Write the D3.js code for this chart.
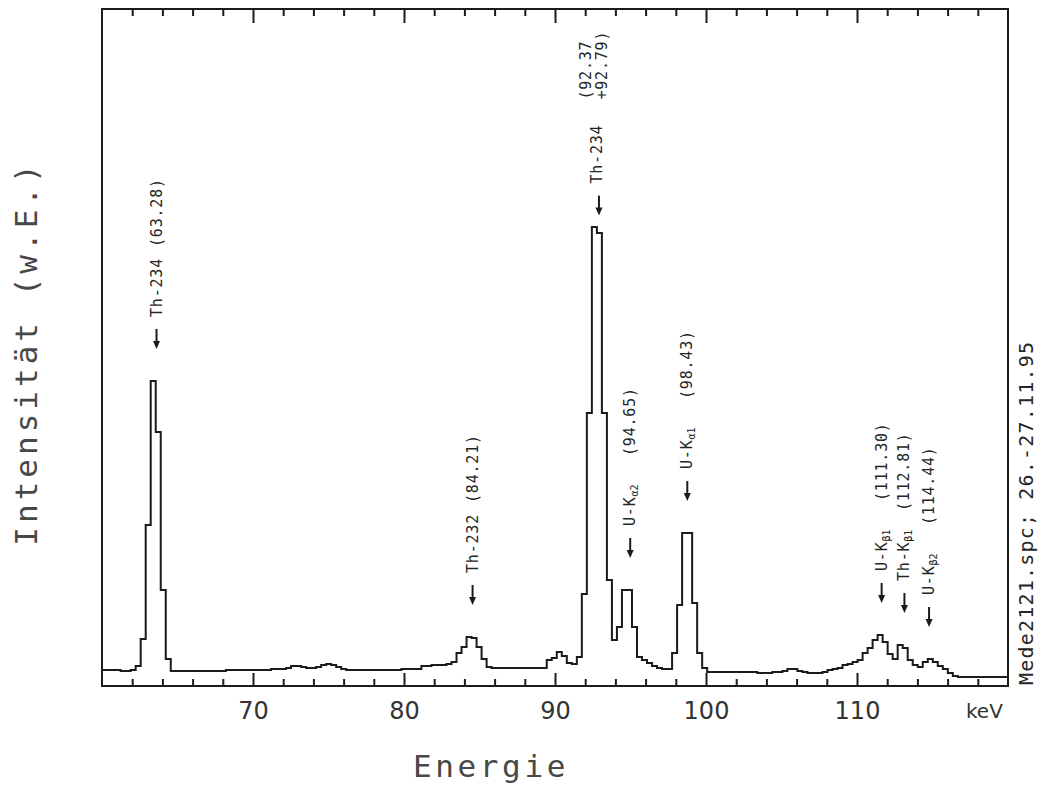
<!DOCTYPE html>
<html>
<head>
<meta charset="utf-8">
<script src="https://cdn.jsdelivr.net/npm/d3@7"></script>
<style>
  html, body { margin: 0; padding: 0; background: #fff; }
  svg { display: block; }
</style>
</head>
<body>
<svg id="chart" width="1045" height="787"></svg>
<script>
// Gamma spectrum, one count value per channel (arbitrary units)
const channelStart = 59.906;   // keV, lower edge of channel 0
const channelWidth = 0.332;    // keV per channel
const counts = [
  16, 16, 16, 16, 15, 15, 16, 20, 47, 161,
  305, 254, 96, 27, 15, 15, 15, 15, 15, 15,
  15, 15, 15, 15, 15, 16, 16, 16, 16, 16,
  16, 16, 16, 16, 17, 17, 17, 18, 20, 20,
  19, 18, 18, 19, 21, 22, 21, 19, 17, 16,
  16, 16, 16, 16, 16, 16, 16, 16, 16, 16,
  17, 17, 17, 17, 20, 20, 21, 21, 21, 22,
  24, 33, 39, 49, 48, 39, 27, 19, 18, 18,
  18, 18, 18, 18, 18, 18, 18, 18, 18, 26,
  28, 34, 30, 23, 22, 29, 92, 273, 459, 453,
  273, 106, 46, 59, 96, 96, 59, 29, 26, 23,
  20, 18, 17, 17, 33, 81, 153, 153, 83, 33,
  18, 14, 14, 14, 14, 14, 14, 14, 14, 14,
  14, 13, 13, 13, 14, 14, 15, 17, 17, 15,
  14, 13, 13, 13, 14, 16, 17, 18, 21, 22,
  24, 26, 33, 38, 46, 51, 44, 32, 27, 41,
  38, 26, 21, 19, 24, 27, 24, 20, 17, 13,
  10, 9, 9, 9, 9, 9, 9, 9, 9, 9,
  9, 9
];

// Energy axis ticks (keV)
const majorTicks = [70, 80, 90, 100, 110];
const minorTicks = [62, 64, 66, 68, 72, 74, 76, 78, 82, 84, 86, 88, 92, 94, 96, 98,
                    102, 104, 106, 108, 112, 114, 116, 118];
const energyUnit = "keV";

// Peak annotations: nuclide / line, subscript, energies in keV
const peakNames    = ["Th-234", "Th-232", "Th-234", "U-K", "U-K", "U-K", "Th-K", "U-K"];
const peakSubs     = ["", "", "", "α2", "α1", "β1", "β1", "β2"];
const peakEnergies = [[63.28], [84.21], [92.37, 92.79], [94.65], [98.43], [111.30], [112.81], [114.44]];

const xTitle = "Energie";
const yTitle = "Intensität (w.E.)";
const runNote = "Mede2121.spc; 26.-27.11.95";

// ---------------------------------------------------------------------------
const plot = { left: 102, right: 1008, top: 9, bottom: 686 };
const ink = "#1b1b1b";
const textInk = "#262626";
const titleInk = "#484848";
const mono = "'DejaVu Sans Mono', 'Liberation Mono', monospace";
const sans = "'DejaVu Sans', 'Liberation Sans', sans-serif";

const x = d3.scaleLinear().domain([60, 120]).range([plot.left, plot.right]);
const y = d3.scaleLinear().domain([0, 677]).range([plot.bottom, plot.top]);

const svg = d3.select("#chart");
svg.append("rect").attr("width", 1045).attr("height", 787).attr("fill", "#fff");

svg.append("defs").append("clipPath").attr("id", "plot-clip")
  .append("rect")
  .attr("x", plot.left).attr("y", plot.top)
  .attr("width", plot.right - plot.left).attr("height", plot.bottom - plot.top);

// Spectrum as a histogram outline
const channelEdge = k => channelStart + k * channelWidth;
const steps = counts.map((c, k) => [channelEdge(k), c]);
steps.push([channelEdge(counts.length), counts[counts.length - 1]]);

const stepLine = d3.line()
  .x(d => x(d[0]))
  .y(d => y(d[1]))
  .curve(d3.curveStepAfter);

svg.append("path")
  .attr("clip-path", "url(#plot-clip)")
  .attr("d", stepLine(steps))
  .attr("fill", "none")
  .attr("stroke", ink)
  .attr("stroke-width", 2)
  .attr("stroke-linejoin", "miter");

// Axes: inward ticks on bottom and top edge
function styleAxis(g) {
  g.select(".domain").remove();
  g.selectAll(".tick line").attr("stroke", ink).attr("stroke-width", 2);
}

svg.append("g")
  .attr("transform", `translate(0,${plot.bottom})`)
  .call(d3.axisBottom(x).tickValues(minorTicks).tickSizeInner(-7).tickSizeOuter(0).tickFormat(""))
  .call(styleAxis);

const bottomMajor = svg.append("g")
  .attr("transform", `translate(0,${plot.bottom})`)
  .call(d3.axisBottom(x).tickValues(majorTicks).tickSizeInner(-13).tickSizeOuter(0)
    .tickPadding(16).tickFormat(d3.format("d")))
  .call(styleAxis);
bottomMajor.selectAll(".tick text")
  .attr("fill", "#333")
  .style("font-family", sans)
  .style("font-size", "24px");

svg.append("g")
  .attr("transform", `translate(0,${plot.top})`)
  .call(d3.axisTop(x).tickValues(minorTicks).tickSizeInner(-7).tickSizeOuter(0).tickFormat(""))
  .call(styleAxis);

svg.append("g")
  .attr("transform", `translate(0,${plot.top})`)
  .call(d3.axisTop(x).tickValues(majorTicks).tickSizeInner(-14).tickSizeOuter(0).tickFormat(""))
  .call(styleAxis);

// Frame
svg.append("rect")
  .attr("x", plot.left).attr("y", plot.top)
  .attr("width", plot.right - plot.left).attr("height", plot.bottom - plot.top)
  .attr("fill", "none").attr("stroke", ink).attr("stroke-width", 2);

// Unit at the end of the energy axis
svg.append("text")
  .attr("x", 966).attr("y", 718)
  .attr("fill", "#333")
  .style("font-family", sans).style("font-size", "20px")
  .text(energyUnit);

// Axis titles
svg.append("text")
  .attr("x", 491).attr("y", 777)
  .attr("text-anchor", "middle")
  .attr("fill", titleInk)
  .style("font-family", mono).style("font-size", "31px").style("letter-spacing", "3.6px")
  .text(xTitle);

svg.append("text")
  .attr("transform", "translate(26,353) rotate(-90)")
  .attr("text-anchor", "middle")
  .attr("dominant-baseline", "central")
  .attr("fill", titleInk)
  .style("font-family", mono).style("font-size", "31px").style("letter-spacing", "4px")
  .text(yTitle);

// Spectrum file and measuring period, along the right edge
svg.append("text")
  .attr("transform", "translate(1026,685) rotate(-90)")
  .attr("dominant-baseline", "central")
  .attr("fill", textInk)
  .style("font-family", mono).style("font-size", "20px").style("letter-spacing", "1.2px")
  .text(runNote);

// Peak markers: arrow pointing at the peak, rotated label above it
const arrowShift = 5;     // px from annotated energy to arrow
const arrowLen = 20;
const nameGap = 32;       // arrow tip to start of nuclide text
const energyGap = 70;     // start of nuclide text to start of energy text
const blockGap = 14;      // extra room before a two-line energy block
const charStep = 9.8;     // advance of the label font

peakEnergies.forEach((energies, i) => {
  const e = d3.mean(energies);
  const ax = x(e) + arrowShift;
  const twoLine = energies.length > 1;

  // highest channel around the annotated energy
  const near = counts.filter((c, k) => {
    const ec = channelEdge(k + 0.5);
    return Math.abs(ec - (e + 0.2)) <= 0.7;
  });
  const peakTop = y(d3.max(near));

  const energyText = twoLine
    ? [`(${energies[0].toFixed(2)}`, `+${energies[1].toFixed(2)})`]
    : [`(${energies[0].toFixed(2)})`];
  const eGap = energyGap + (twoLine ? blockGap : 0);
  const span = nameGap + eGap + d3.max(energyText, t => t.length) * charStep;
  const tip = Math.max(peakTop - 32, plot.top + 22 + span);

  const g = svg.append("g").attr("transform", `translate(${ax},${tip})`);

  g.append("line")
    .attr("x1", 0).attr("y1", -6).attr("x2", 0).attr("y2", -arrowLen)
    .attr("stroke", ink).attr("stroke-width", 2);
  g.append("path")
    .attr("d", "M0,0 L-3.5,-8 L3.5,-8 Z")
    .attr("fill", ink);

  const name = g.append("text")
    .attr("transform", `translate(${twoLine ? -2 : 0},${-nameGap}) rotate(-90)`)
    .attr("dominant-baseline", "central")
    .attr("fill", textInk)
    .style("font-family", mono).style("font-size", "15px").style("letter-spacing", "0.8px");
  name.append("tspan").text(peakNames[i]);
  if (peakSubs[i]) {
    name.append("tspan")
      .attr("dy", 4)
      .style("font-size", "10px")
      .style("letter-spacing", "0px")
      .text(peakSubs[i]);
  }

  energyText.forEach((t, j) => {
    const off = twoLine ? (j === 0 ? -13 : 3) : 0;
    g.append("text")
      .attr("transform", `translate(${off},${-nameGap - eGap}) rotate(-90)`)
      .attr("dominant-baseline", "central")
      .attr("fill", textInk)
      .style("font-family", mono).style("font-size", "15px").style("letter-spacing", "0.8px")
      .text(t);
  });
});
</script>
</body>
</html>
